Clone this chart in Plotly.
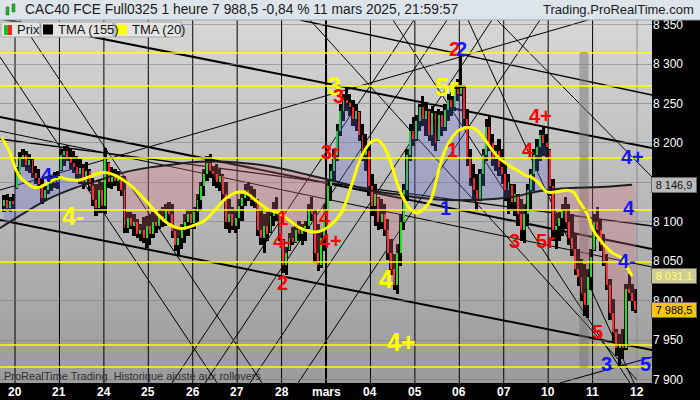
import numpy as np
import plotly.graph_objects as go

# ---- data ----
day_labels = ["20", "21", "24", "25", "26", "27", "28", "mars", "04", "05", "06", "07", "10", "11", "12"]
bars_per_day = 14
n_pre = 4  # bars of 19 Feb visible at the left edge
first_open = 8120

highs = [8133, 8134, 8130, 8134,
         8168, 8187, 8191, 8189, 8185, 8178, 8170, 8166, 8153, 8144, 8153, 8157, 8162, 8163,
         8191, 8195, 8196, 8191, 8189, 8182, 8178, 8172, 8175, 8166, 8155, 8147, 8153, 8150,
         8193, 8175, 8168, 8166, 8163, 8157, 8157, 8111, 8111, 8109, 8102, 8096, 8105, 8106,
         8109, 8111, 8109, 8115, 8118, 8121, 8124, 8121, 8093, 8090, 8096, 8109, 8115, 8115,
         8118, 8134, 8150, 8166, 8182, 8185, 8170, 8172, 8166, 8159, 8149, 8128, 8118, 8115,
         8128, 8134, 8147, 8149, 8144, 8140, 8128, 8115, 8109, 8112, 8115, 8124, 8130, 8109,
         8077, 8067, 8085, 8092, 8096, 8100, 8096, 8100, 8121, 8131, 8115, 8096, 8090, 8121,
         8153, 8172, 8191, 8223, 8248, 8261, 8270, 8261, 8254, 8248, 8239, 8223, 8210, 8197,
         8159, 8147, 8130, 8128, 8121, 8102, 8077, 8058, 8071, 8109, 8147, 8191, 8223, 8232,
         8235, 8248, 8258, 8251, 8242, 8246, 8239, 8242, 8239, 8248, 8261, 8264, 8273, 8280,
         8314, 8273, 8242, 8191, 8172, 8159, 8166, 8191, 8229, 8235, 8210, 8197, 8204, 8191,
         8172, 8159, 8147, 8147, 8134, 8128, 8121, 8147, 8166, 8191, 8204, 8216, 8219, 8210,
         8191, 8153, 8109, 8111, 8121, 8130, 8121, 8109, 8083, 8064, 8052, 8045, 8039, 8064,
         8109, 8118, 8102, 8083, 8058, 8026, 8001, 7963, 7957, 7963, 8020, 8033, 8020, 8014]

lows = [8113, 8115, 8114, 8117,
        8143, 8162, 8170, 8166, 8163, 8157, 8149, 8143, 8124, 8128, 8136, 8140, 8144, 8143,
        8166, 8172, 8178, 8168, 8163, 8155, 8149, 8143, 8149, 8140, 8121, 8109, 8112, 8112,
        8111, 8144, 8143, 8147, 8140, 8134, 8087, 8087, 8092, 8083, 8080, 8077, 8074, 8068,
        8071, 8080, 8087, 8092, 8094, 8096, 8100, 8080, 8064, 8058, 8067, 8074, 8083, 8092,
        8092, 8100, 8115, 8134, 8153, 8157, 8147, 8144, 8140, 8128, 8092, 8087, 8090, 8087,
        8092, 8102, 8121, 8128, 8121, 8118, 8083, 8071, 8061, 8077, 8087, 8096, 8102, 8077,
        8036, 8033, 8064, 8071, 8074, 8077, 8071, 8077, 8092, 8102, 8049, 8039, 8042, 8064,
        8115, 8128, 8153, 8178, 8210, 8229, 8242, 8235, 8223, 8216, 8204, 8178, 8166, 8134,
        8109, 8096, 8090, 8092, 8083, 8052, 8033, 8014, 8010, 8045, 8090, 8128, 8178, 8197,
        8204, 8216, 8223, 8210, 8204, 8197, 8191, 8204, 8210, 8216, 8229, 8235, 8242, 8254,
        8261, 8223, 8172, 8147, 8128, 8115, 8128, 8147, 8178, 8191, 8172, 8166, 8159, 8149,
        8128, 8111, 8115, 8109, 8096, 8077, 8074, 8096, 8115, 8140, 8166, 8178, 8185, 8182,
        8134, 8077, 8067, 8077, 8083, 8092, 8071, 8058, 8033, 8020, 8001, 7982, 7979, 8014,
        8064, 8083, 8064, 8045, 8014, 7976, 7950, 7931, 7917, 7927, 7938, 8001, 7988, 7985]

closes = [8128, 8118, 8126, 8122,
          8160, 8180, 8185, 8172, 8178, 8162, 8155, 8148, 8130, 8140, 8148, 8152, 8150, 8158,
          8185, 8190, 8182, 8175, 8170, 8160, 8168, 8150, 8165, 8145, 8128, 8118, 8140, 8120,
          8180, 8150, 8160, 8152, 8155, 8140, 8092, 8105, 8095, 8100, 8085, 8090, 8080, 8095,
          8085, 8100, 8095, 8108, 8100, 8115, 8110, 8088, 8070, 8080, 8090, 8100, 8110, 8098,
          8112, 8128, 8145, 8160, 8175, 8165, 8160, 8150, 8158, 8135, 8100, 8110, 8095, 8105,
          8120, 8130, 8140, 8135, 8128, 8125, 8090, 8080, 8095, 8085, 8108, 8115, 8110, 8085,
          8045, 8060, 8080, 8075, 8090, 8085, 8092, 8095, 8115, 8110, 8060, 8045, 8080, 8115,
          8145, 8165, 8185, 8215, 8240, 8255, 8250, 8245, 8230, 8240, 8210, 8185, 8190, 8145,
          8120, 8135, 8100, 8110, 8090, 8060, 8040, 8020, 8060, 8100, 8140, 8185, 8215, 8205,
          8228, 8245, 8230, 8240, 8210, 8238, 8200, 8235, 8220, 8242, 8255, 8245, 8268, 8262,
          8270, 8230, 8180, 8155, 8140, 8125, 8160, 8185, 8220, 8200, 8180, 8190, 8170, 8160,
          8140, 8150, 8125, 8135, 8110, 8090, 8110, 8140, 8160, 8185, 8195, 8210, 8200, 8195,
          8145, 8090, 8095, 8105, 8115, 8100, 8080, 8065, 8040, 8030, 8010, 7995, 8030, 8055,
          8100, 8090, 8070, 8050, 8020, 7985, 7960, 7940, 7945, 7940, 8015, 8010, 8000, 7988.5]

# TMA(20) - yellow curve (x in trading days from 20 Feb)
tma20_x = [-0.30, -0.11, 0.00, 0.11, 0.27, 0.41, 0.56, 0.72, 0.86, 1.01, 1.17, 1.31, 1.46, 1.62,
           1.76, 1.91, 2.09, 2.32, 2.54, 2.77, 2.99, 3.22, 3.44, 3.67, 3.83, 4.05, 4.28, 4.50,
           4.75, 4.97, 5.13, 5.27, 5.49, 5.72, 5.94, 6.17, 6.39, 6.62, 6.77, 6.95, 7.11, 7.34,
           7.56, 7.79, 8.01, 8.15, 8.31, 8.46, 8.60, 8.76, 8.91, 9.05, 9.21, 9.36, 9.54, 9.68,
           9.84, 9.99, 10.13, 10.29, 10.44, 10.58, 10.74, 10.89, 11.03, 11.19, 11.34, 11.48,
           11.64, 11.79, 11.97, 12.20, 12.42, 12.56, 12.72, 12.87, 13.01, 13.17, 13.32, 13.46,
           13.66, 13.77, 13.89]
tma20_y = [8207, 8187, 8169, 8157, 8149, 8144, 8144, 8149, 8153, 8156, 8154, 8153, 8153, 8156,
           8159, 8162, 8162, 8157, 8149, 8137, 8124, 8109, 8098, 8092, 8092, 8096, 8102, 8115,
           8130, 8137, 8138, 8134, 8124, 8115, 8111, 8102, 8093, 8088, 8087, 8090, 8096, 8111,
           8144, 8182, 8201, 8204, 8195, 8175, 8149, 8128, 8115, 8111, 8117, 8128, 8166, 8191,
           8207, 8216, 8219, 8219, 8214, 8204, 8191, 8181, 8175, 8169, 8164, 8159,
           8156, 8149, 8138, 8138, 8140, 8138, 8124, 8111, 8090, 8077, 8067, 8060,
           8054, 8043, 8031.1]

# TMA(155) - dark curve
tma155_x = [-0.34, 0.23, 0.79, 1.35, 1.91, 2.48, 3.04, 3.60, 4.16, 5.06, 5.96, 6.41, 7.09,
            7.99, 8.67, 9.57, 10.47, 11.14, 11.82, 12.49, 13.17, 13.89]
tma155_y = [8092, 8112, 8130, 8143, 8153, 8163, 8169, 8173, 8176, 8175, 8168, 8162, 8153,
            8140, 8134, 8128, 8128, 8131, 8139, 8143, 8144, 8146.9]

# horizontal yellow levels
levels = [8314, 8272, 8181, 8115, 8049, 7944, 7916]

# trend lines: start day, start price, end day, end price, width
trend_lines = [
    (-0.338, 8357.7, 14.337, 8193.5, 2),
    (-0.338, 8232.8, 14.337, 8065.5, 2),
    (-0.338, 8102.3, 14.337, 7937.5, 2),
    (-0.338, 8205.0, 14.337, 8094.7, 1.3),
    (6.415, 8355.8, 14.337, 8260.7, 1.3),
    (-0.338, 8215.1, 14.337, 8042.7, 1),
    (-0.338, 8140.3, 12.897, 8355.8, 1),
    (0.106, 8355.8, 5.559, 7895.7, 1),
    (-0.338, 8308.9, 4.547, 7895.7, 1),
    (3.534, 7895.7, 8.980, 8355.8, 1),
    (4.276, 7895.7, 9.723, 8355.8, 1),
    (5.289, 7895.7, 10.736, 8355.8, 1),
    (6.369, 7895.7, 11.816, 8355.8, 1),
    (10.196, 8355.8, 13.932, 7895.7, 1),
    (10.848, 8355.8, 14.337, 8156.8, 1),
    (6.640, 8355.8, 14.000, 7899.5, 1),
    (8.508, 8355.8, 13.842, 7895.7, 1),
    (12.266, 7895.7, 14.337, 7928.6, 1),
]

# wave labels
wave_text = ["3", "5r", "4-", "4", "4+",
             "2", "3", "3r", "1", "4-", "4", "4+", "2", "1", "4", "4+", "3", "5r", "5",
             "2", "4-", "1", "4+", "4", "4-", "3", "5"]
wave_x = [7.18, 9.72, 1.31, 8.35, 8.69,
          9.90, 7.29, 7.11, 6.03, 6.01, 6.98, 7.09, 6.03, 9.84, 11.55, 11.82, 11.25, 11.95, 13.10,
          10.06, 0.79, 9.70, 13.89, 13.82, 13.77, 13.32, 14.18]
wave_y = [8272, 8271, 8107, 8028, 7948,
          8319, 8259, 8189, 8105, 8076, 8105, 8076, 8022, 8191, 8191, 8234, 8076, 8076, 7960,
          8319, 8159, 8118, 8182, 8118, 8050, 7920, 7920]
wave_color = ["yellow"] * 5 + ["red"] * 14 + ["blue"] * 8

y_lo, y_hi = 7895.7, 8355.8
x_lo, x_hi = -0.338, 14.337

# ---- derived geometry ----
bar_x = np.array([(k + 0.5) / bars_per_day for k in range(-n_pre, bars_per_day * 14)])
hi = np.array(highs, float)
lo = np.array(lows, float)
cl = np.array(closes, float)
op = np.concatenate([[first_open], cl[:-1]])
op = np.minimum(np.maximum(op, lo), hi)

fig = go.Figure()

# colour zones between price and TMA(155)
ma = np.interp(bar_x, tma155_x, tma155_y)
zones = {True: ([], []), False: ([], [])}
seg_x, seg_a, seg_b = [bar_x[0]], [cl[0]], [ma[0]]
state = cl[0] >= ma[0]
def close_seg(s, sx, sa, sb):
    zx, zy = zones[s]
    zx.extend(list(sx) + list(sx[::-1]) + [None])
    zy.extend(list(sa) + list(sb[::-1]) + [None])
for i in range(1, len(bar_x)):
    s = cl[i] >= ma[i]
    if s != state:
        d0, d1 = cl[i - 1] - ma[i - 1], cl[i] - ma[i]
        t = d0 / (d0 - d1)
        xc = bar_x[i - 1] + t * (bar_x[i] - bar_x[i - 1])
        yc = ma[i - 1] + t * (ma[i] - ma[i - 1])
        seg_x.append(xc); seg_a.append(yc); seg_b.append(yc)
        close_seg(state, seg_x, seg_a, seg_b)
        seg_x, seg_a, seg_b = [xc], [yc], [yc]
        state = s
    seg_x.append(bar_x[i]); seg_a.append(cl[i]); seg_b.append(ma[i])
close_seg(state, seg_x, seg_a, seg_b)

fig.add_trace(go.Scatter(x=zones[True][0], y=zones[True][1], fill="toself", mode="none",
                         fillcolor="rgba(105,105,215,0.30)", hoverinfo="skip"))
fig.add_trace(go.Scatter(x=zones[False][0], y=zones[False][1], fill="toself", mode="none",
                         fillcolor="rgba(215,115,130,0.30)", hoverinfo="skip"))

# TMA 155
fig.add_trace(go.Scatter(x=tma155_x, y=tma155_y, mode="lines", line=dict(color="#1e1e1e", width=2, shape="spline")))

# candles: black high-low block, thin coloured body
fig.add_trace(go.Bar(x=bar_x, y=hi - lo + 2, base=lo - 1, width=1.0 / bars_per_day,
                     marker=dict(color="black", line=dict(width=0))))
body_col = ["#22dd22" if c >= o else "#ff2020" for o, c in zip(op, cl)]
fig.add_trace(go.Bar(x=bar_x, y=np.maximum(np.abs(cl - op), 0.8), base=np.minimum(op, cl),
                     width=0.3 / bars_per_day, marker=dict(color=body_col, line=dict(width=0))))

# TMA 20
fig.add_trace(go.Scatter(x=tma20_x, y=tma20_y, mode="lines", line=dict(color="#ffff00", width=3, shape="spline")))

# ---- shapes ----
W, H_plot = 652.0, 363.0
def px(X):
    return X / W
def py(Y):
    return (383 - Y) / H_plot

shapes = []
# background gradient
nb = 40
for k in range(nb):
    v = int(214 - (214 - 156) * k / (nb - 1))
    shapes.append(dict(type="rect", xref="paper", yref="paper", x0=0, x1=1,
                       y0=1 - (k + 1) / nb, y1=1 - k / nb + 0.002, line=dict(width=0),
                       fillcolor=f"rgb({v},{v},{v})", layer="below"))
# day separators
for d in range(len(day_labels)):
    col = "black" if d < 14 else "#8a8a8a"
    shapes.append(dict(type="line", xref="x", yref="paper", x0=d, x1=d, y0=0, y1=1,
                       line=dict(color=col, width=2 if day_labels[d] == "mars" else 1), layer="below"))
# trend lines
for x0, y0, x1, y1, w in trend_lines:
    shapes.append(dict(type="line", xref="x", yref="y", x0=x0, y0=y0, x1=x1, y1=y1,
                       line=dict(color="black", width=w), layer="below"))
# grey marker column
shapes.append(dict(type="rect", xref="x", yref="y", x0=12.70, x1=12.91, y0=levels[-1], y1=levels[0],
                   fillcolor="rgba(110,110,110,0.45)", line=dict(width=0), layer="below"))
for lv in [levels[0], levels[2], levels[3], levels[-1]]:
    shapes.append(dict(type="line", xref="x", yref="y", x0=12.72, x1=12.89, y0=lv, y1=lv,
                       line=dict(color="black", width=2)))
# yellow levels
for lv in levels:
    shapes.append(dict(type="line", xref="paper", yref="y", x0=0, x1=1, y0=lv, y1=lv,
                       line=dict(color="#ffff00", width=1.5)))
# title bar
shapes.append(dict(type="rect", xref="paper", yref="paper", x0=0, x1=px(700), y0=py(20), y1=py(0),
                   fillcolor="#dde4ea", line=dict(width=0)))
shapes.append(dict(type="line", xref="paper", yref="paper", x0=0, x1=px(700), y0=py(20), y1=py(20),
                   line=dict(color="#9aa4ad", width=1)))
shapes.append(dict(type="rect", xref="paper", yref="paper", x0=px(6), x1=px(9), y0=py(15), y1=py(7),
                   fillcolor="#2eaa2e", line=dict(color="#1a6a1a", width=0.5)))
shapes.append(dict(type="rect", xref="paper", yref="paper", x0=px(12), x1=px(15), y0=py(12), y1=py(4),
                   fillcolor="#2eaa2e", line=dict(color="#1a6a1a", width=0.5)))
# legend boxes
for X0, X1 in [(1, 40), (41, 113), (115, 181)]:
    shapes.append(dict(type="rect", xref="paper", yref="paper", x0=px(X0), x1=px(X1), y0=py(37), y1=py(22),
                       fillcolor="#e4e4e4", line=dict(color="#a8a8a8", width=1)))
shapes.append(dict(type="rect", xref="paper", yref="paper", x0=px(4), x1=px(8), y0=py(35), y1=py(25),
                   fillcolor="#22bb22", line=dict(width=0)))
shapes.append(dict(type="rect", xref="paper", yref="paper", x0=px(8), x1=px(12), y0=py(35), y1=py(25),
                   fillcolor="#ee2222", line=dict(width=0)))
shapes.append(dict(type="rect", xref="paper", yref="paper", x0=px(43), x1=px(53), y0=py(34.5), y1=py(24.5),
                   fillcolor="black", line=dict(width=0)))
shapes.append(dict(type="rect", xref="paper", yref="paper", x0=px(117), x1=px(127), y0=py(34.5), y1=py(24.5),
                   fillcolor="#ffff00", line=dict(width=0)))

# ---- annotations ----
ann = []
font_a = "Liberation Sans, Arial, sans-serif"
for t, x, y, c in zip(wave_text, wave_x, wave_y, wave_color):
    col = {"yellow": "#ffff00", "red": "#ff0000", "blue": "#1414ff"}[c]
    ann.append(dict(x=x, y=y, xref="x", yref="y", text=f"<b>{t}</b>", showarrow=False,
                    font=dict(family=font_a, size=25 if c == "yellow" else 20, color=col),
                    xanchor="center", yanchor="middle"))
ann.append(dict(x=px(23), y=py(10), xref="paper", yref="paper", xanchor="left", yanchor="middle",
                text="CAC40 FCE Full0325 1 heure 7 988,5 -0,84 % 11 mars 2025, 21:59:57",
                showarrow=False, font=dict(family=font_a, size=13.8, color="#1a1a1a")))
ann.append(dict(x=px(696), y=py(10), xref="paper", yref="paper", xanchor="right", yanchor="middle",
                text="Trading.ProRealTime.com", showarrow=False,
                font=dict(family=font_a, size=13, color="#1a1a1a")))
for X, txt in [(15, "Prix"), (56, "TMA (155)"), (130, "TMA (20)")]:
    ann.append(dict(x=px(X), y=py(29.5), xref="paper", yref="paper", xanchor="left", yanchor="middle",
                    text=txt, showarrow=False, font=dict(family=font_a, size=13, color="#111")))
ann.append(dict(x=px(2), y=py(376), xref="paper", yref="paper", xanchor="left", yanchor="middle",
                text="ProRealTime Trading  Historique ajusté aux rollovers", showarrow=False,
                font=dict(family=font_a, size=11, color="#303030")))
# day labels on the black time scale
for d, lab in enumerate(day_labels):
    ann.append(dict(x=d, y=py(391.5), xref="x", yref="paper", xanchor="center", yanchor="middle",
                    text=f"<b>{lab}</b>", showarrow=False,
                    font=dict(family=font_a, size=12, color="white")))
# last-value boxes on the price scale
for val, txt, bg, fg in [(tma155_y[-1], "8 146,9", "#b9b9b9", "#111111"),
                         (tma20_y[-1], "8 031,1", "#cfcc98", "#ffff70"),
                         (closes[-1], "7 988,5", "#f7c21a", "#000000")]:
    ann.append(dict(x=px(697), y=val, xref="paper", yref="y", xanchor="right", yanchor="middle",
                    text=txt, showarrow=False, bgcolor=bg, bordercolor="#6a6a6a", borderwidth=1,
                    borderpad=1, width=42, align="center",
                    font=dict(family=font_a, size=11, color=fg)))

fig.update_layout(
    width=700, height=400,
    margin=dict(l=0, r=48, t=20, b=17),
    paper_bgcolor="black", plot_bgcolor="rgba(0,0,0,0)",
    showlegend=False, barmode="overlay", bargap=0,
    separators=", ",
    shapes=shapes, annotations=ann,
    xaxis=dict(range=[x_lo, x_hi], showgrid=False, zeroline=False, showticklabels=False, ticks=""),
    yaxis=dict(range=[y_lo, y_hi], side="right", dtick=50, tick0=7900, tickformat=",.0f",
               showgrid=True, gridcolor="rgba(120,120,120,0.55)", gridwidth=1, zeroline=False,
               tickfont=dict(family=font_a, size=12, color="white"), ticks=""),
)

# page body has a default margin; remove it so the figure sits at the window corner
fig.write_html("out.html", config={"displayModeBar": False},
               post_script="document.body.style.margin='0px';")
